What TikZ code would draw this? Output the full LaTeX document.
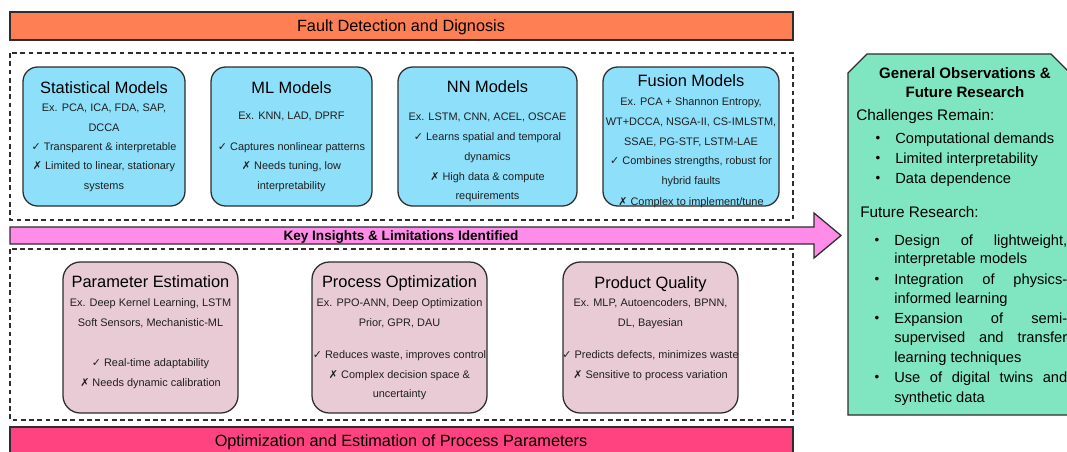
\documentclass[tikz,border=0pt]{standalone}
\usepackage{graphicx}
\usepackage{fontspec}
\setmainfont{Liberation Sans}
\newfontfamily\symfont{DejaVu Sans}
\newcommand\yes{{\symfont ✓}}
\newcommand\nay{{\symfont ✗}}
\newcommand\jline[1]{\makebox[129.75pt][s]{#1}}

\definecolor{barorange}{RGB}{255,127,84}
\definecolor{modelblue}{RGB}{142,223,250}
\definecolor{insightpink}{RGB}{255,140,232}
\definecolor{taskmauve}{RGB}{233,203,214}
\definecolor{barpink}{RGB}{255,66,128}
\definecolor{notegreen}{RGB}{128,230,193}
\definecolor{edgegray}{RGB}{45,45,45}

\tikzset{
  outline/.style={draw=edgegray, line width=0.95pt},
  dashbox/.style={draw=edgegray, line width=0.85pt, dash pattern=on 3.6pt off 2.6pt},
  modelbox/.style={outline, fill=modelblue, rounded corners=11pt},
  taskbox/.style={outline, fill=taskmauve, rounded corners=13pt},
  bartext/.style={inner sep=0pt, font=\fontsize{12.2}{14}\selectfont, text height=8.7pt, text depth=0pt},
  ttl/.style={inner sep=0pt, font=\fontsize{12.3}{14}\selectfont, text height=8.8pt, text depth=0pt},
  txt/.style={inner sep=0pt, font=\fontsize{8.2}{10}\selectfont, text height=5.9pt, text depth=0pt, text=black!88},
  gtitle/.style={inner sep=0pt, font=\bfseries\fontsize{11.3}{13}\selectfont, text height=8.1pt, text depth=0pt},
  ghead/.style={inner sep=0pt, anchor=west, font=\fontsize{11.5}{13}\selectfont, text height=8.2pt, text depth=0pt},
  gitem/.style={inner sep=0pt, anchor=west, font=\fontsize{11}{13}\selectfont, text height=7.9pt, text depth=0pt},
  gdot/.style={inner sep=0pt, font=\fontsize{10}{13}\selectfont, text height=7.2pt, text depth=0pt},
}

\begin{document}
\begin{tikzpicture}[x=0.75pt, y=-0.75pt]
\useasboundingbox (0,0) rectangle (1067,451);
\fill[white] (0,0) rectangle (1067,451);
\begin{scope}
\clip (0,0) rectangle (1067,451);

% ---------- fault detection section ----------
\draw[outline, fill=barorange] (10,12) rectangle (793,40);
\node[bartext] (fdd) at (401,26) {Fault Detection and Dignosis};

\draw[dashbox] (10,53) rectangle (793,220);

\draw[modelbox] (23,67) rectangle (185,206);
\node[ttl] (st0) at (104,88) {Statistical Models};
\node[txt] (st1) at (104,108) {Ex. PCA, ICA, FDA, SAP,};
\node[txt] (st2) at (104,128) {DCCA};
\node[txt] (st3) at (104,147) {\yes\ Transparent \& interpretable};
\node[txt] (st4) at (104,166) {\nay\ Limited to linear, stationary};
\node[txt] (st5) at (104,186) {systems};

\draw[modelbox] (211,67) rectangle (372,206);
\node[ttl] (ml0) at (291.5,88) {ML Models};
\node[txt] (ml1) at (291.5,116) {Ex. KNN, LAD, DPRF};
\node[txt] (ml2) at (291.5,147) {\yes\ Captures nonlinear patterns};
\node[txt] (ml3) at (291.5,166) {\nay\ Needs tuning, low};
\node[txt] (ml4) at (291.5,186) {interpretability};

\draw[modelbox] (398,67) rectangle (577,206);
\node[ttl] (nn0) at (487.5,87) {NN Models};
\node[txt] (nn1) at (487.5,117) {Ex. LSTM, CNN, ACEL, OSCAE};
\node[txt] (nn2) at (487.5,137) {\yes\ Learns spatial and temporal};
\node[txt] (nn3) at (487.5,157) {dynamics};
\node[txt] (nn4) at (487.5,177) {\nay\ High data \& compute};
\node[txt] (nn5) at (487.5,196) {requirements};

\draw[modelbox] (603,67) rectangle (779,206);
\node[ttl] (fu0) at (691,81) {Fusion Models};
\node[txt] (fu1) at (691,102) {Ex. PCA + Shannon Entropy,};
\node[txt] (fu2) at (691,122) {WT+DCCA, NSGA-II, CS-IMLSTM,};
\node[txt] (fu3) at (691,142) {SSAE, PG-STF, LSTM-LAE};
\node[txt] (fu4) at (691,161) {\yes\ Combines strengths, robust for};
\node[txt] (fu5) at (691,181) {hybrid faults};
\node[txt] (fu6) at (691,201.5) {\nay\ Complex to implement/tune};

% ---------- insights arrow ----------
\draw[outline, fill=insightpink, line join=miter]
  (10,227) -- (814,227) -- (814,213) -- (841,235.5) -- (814,258) -- (814,244) -- (10,244) -- cycle;
\node[inner sep=0pt, font=\bfseries\fontsize{10.2}{12}\selectfont, text height=7.3pt, text depth=0pt]
  (key) at (401,235.5) {Key Insights \& Limitations Identified};

% ---------- process parameter section ----------
\draw[dashbox] (10,249) rectangle (793,420);

\draw[taskbox] (63,262) rectangle (238,413);
\node[ttl] (pe0) at (150.5,282) {Parameter Estimation};
\node[txt] (pe1) at (150.5,303) {Ex. Deep Kernel Learning, LSTM};
\node[txt] (pe2) at (150.5,323) {Soft Sensors, Mechanistic-ML};
\node[txt] (pe3) at (150.5,363) {\yes\ Real-time adaptability};
\node[txt] (pe4) at (150.5,383) {\nay\ Needs dynamic calibration};

\draw[taskbox] (312,262) rectangle (487,413);
\node[ttl] (po0) at (399.5,282) {Process Optimization};
\node[txt] (po1) at (399.5,303) {Ex. PPO-ANN, Deep Optimization};
\node[txt] (po2) at (399.5,323) {Prior, GPR, DAU};
\node[txt] (po3) at (399.5,355) {\yes\ Reduces waste, improves control};
\node[txt] (po4) at (399.5,375) {\nay\ Complex decision space \&};
\node[txt] (po5) at (399.5,394) {uncertainty};

\draw[taskbox] (563,262) rectangle (738,413);
\node[ttl] (pq0) at (650.5,283) {Product Quality};
\node[txt] (pq1) at (650.5,303) {Ex. MLP, Autoencoders, BPNN,};
\node[txt] (pq2) at (650.5,323) {DL, Bayesian};
\node[txt] (pq3) at (650.5,355) {\yes\ Predicts defects, minimizes waste};
\node[txt] (pq4) at (650.5,375) {\nay\ Sensitive to process variation};

\draw[outline, fill=barpink] (10,427) rectangle (793,456);
\node[bartext] (oep) at (401,441) {Optimization and Estimation of Process Parameters};

% ---------- observations panel ----------
\draw[outline, fill=notegreen]
  (848,73) -- (867,54) -- (1051,54) -- (1070,73) -- (1070,415) -- (848,415) -- cycle;
\node[gtitle] (gt1) at (965,73) {General Observations \&};
\node[gtitle] (gt2) at (965,92) {Future Research};

\node[ghead] (ch) at (856,115) {Challenges Remain:};
\node[gdot] (cb1) at (878,138) {•};
\node[gitem] (ci1) at (895,138) {Computational demands};
\node[gdot] (cb2) at (878,158) {•};
\node[gitem] (ci2) at (895,158) {Limited interpretability};
\node[gdot] (cb3) at (878,178) {•};
\node[gitem] (ci3) at (895,178) {Data dependence};

\node[ghead] (fr) at (860,212) {Future Research:};
\node[gdot] (fb1) at (877,240) {•};
\node[gitem] (fi1) at (894,240) {\jline{Design of lightweight,}};
\node[gitem] (fi1b) at (894,258) {interpretable models};
\node[gdot] (fb2) at (877,279) {•};
\node[gitem] (fi2) at (894,279) {\jline{Integration of physics-}};
\node[gitem] (fi2b) at (894,298) {informed learning};
\node[gdot] (fb3) at (877,318) {•};
\node[gitem] (fi3) at (894,318) {\jline{Expansion of semi-}};
\node[gitem] (fi3b) at (894,337) {\jline{supervised and transfer}};
\node[gitem] (fi3c) at (894,357) {learning techniques};
\node[gdot] (fb4) at (877,377) {•};
\node[gitem] (fi4) at (894,377) {\jline{Use of digital twins and}};
\node[gitem] (fi4b) at (894,397) {synthetic data};
\end{scope}
\end{tikzpicture}
\end{document}
